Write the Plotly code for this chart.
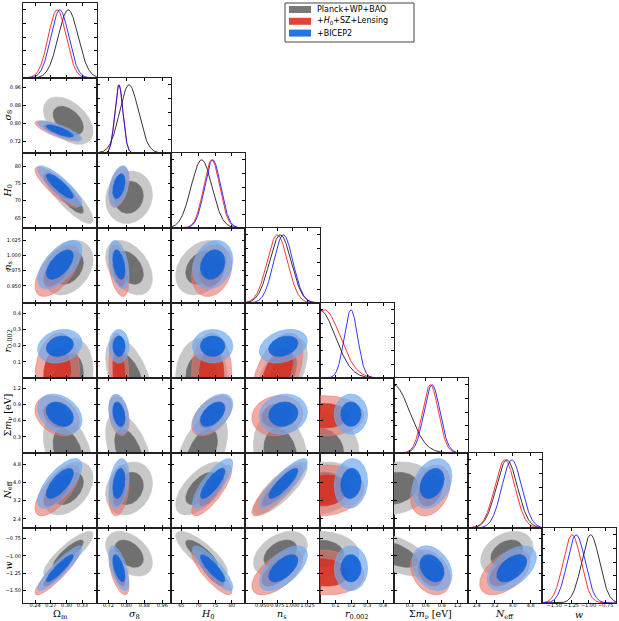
import numpy as np
import plotly.graph_objects as go

# ---------------- data ----------------
PARAM_LABELS = ["Ω<sub>m</sub>", "<i>σ</i><sub>8</sub>", "<i>H</i><sub>0</sub>", "<i>n</i><sub>s</sub>",
                "<i>r</i><sub>0.002</sub>", "Σ<i>m</i><sub>ν</sub> [eV]", "<i>N</i><sub>eff</sub>", "<i>w</i>"]
AXIS_RANGES = [[0.217, 0.358], [0.67, 1.0], [62.0, 84.0], [0.922, 1.045],
               [0.0, 0.465], [0.0, 1.39], [2.0, 5.3], [-1.68, -0.60]]
TICK_VALUES = [[0.24, 0.27, 0.30, 0.33], [0.72, 0.80, 0.88, 0.96], [65, 70, 75, 80],
               [0.950, 0.975, 1.000, 1.025], [0.1, 0.2, 0.3, 0.4], [0.3, 0.6, 0.9, 1.2],
               [2.4, 3.2, 4.0, 4.8], [-1.50, -1.25, -1.00, -0.75]]
TICK_TEXT = [["0.24", "0.27", "0.30", "0.33"], ["0.72", "0.80", "0.88", "0.96"], ["65", "70", "75", "80"],
             ["0.950", "0.975", "1.000", "1.025"], ["0.1", "0.2", "0.3", "0.4"], ["0.3", "0.6", "0.9", "1.2"],
             ["2.4", "3.2", "4.0", "4.8"], ["\u22121.50", "\u22121.25", "\u22121.00", "\u22120.75"]]

SERIES_NAMES = ["Planck+WP+BAO", "+<i>H</i><sub>0</sub>+SZ+Lensing", "+BICEP2"]

# means per parameter (Ωm, σ8, H0, ns, r, Σmν, Neff, w)
MEAN_PLANCK = [0.303, 0.812, 71.0, 0.980, 0.000, 0.00, 3.74, -0.97]
MEAN_H0SZ = [0.282, 0.767, 74.0, 0.975, 0.030, 0.69, 3.65, -1.24]
MEAN_BICEP = [0.287, 0.767, 74.3, 0.985, 0.197, 0.72, 3.96, -1.18]
# standard deviations
SD_PLANCK = [0.019, 0.042, 3.1, 0.018, 0.100, 0.30, 0.47, 0.13]
SD_H0SZ = [0.017, 0.018, 2.4, 0.017, 0.100, 0.15, 0.45, 0.13]
SD_BICEP = [0.017, 0.018, 2.4, 0.016, 0.042, 0.15, 0.44, 0.13]

# correlation for each pair (row parameter, column parameter)
PAIRS = [(1, 0), (2, 0), (2, 1), (3, 0), (3, 1), (3, 2), (4, 0), (4, 1), (4, 2), (4, 3),
         (5, 0), (5, 1), (5, 2), (5, 3), (5, 4), (6, 0), (6, 1), (6, 2), (6, 3), (6, 4), (6, 5),
         (7, 0), (7, 1), (7, 2), (7, 3), (7, 4), (7, 5), (7, 6)]
RHO_PLANCK = [-0.45, -0.85, 0.10, 0.30, -0.40, 0.30, 0.20, -0.50, 0.00, 0.60,
              -0.40, -0.50, 0.50, -0.20, 0.00, 0.40, 0.20, 0.60, 0.80, 0.20, 0.20,
              0.85, -0.40, -0.80, 0.40, 0.00, -0.60, 0.30]
RHO_H0SZ = [-0.80, -0.85, 0.40, 0.60, -0.40, 0.20, 0.10, -0.20, 0.00, 0.50,
            -0.30, -0.30, 0.50, 0.10, 0.00, 0.70, 0.30, 0.80, 0.85, 0.10, 0.30,
            0.90, -0.60, -0.85, 0.60, -0.10, -0.30, 0.50]
RHO_BICEP = [-0.80, -0.85, 0.40, 0.60, -0.40, 0.20, 0.20, 0.00, 0.00, 0.30,
             -0.30, -0.30, 0.50, 0.10, 0.00, 0.70, 0.30, 0.80, 0.85, 0.10, 0.30,
             0.90, -0.60, -0.85, 0.60, 0.00, -0.30, 0.50]

# ---------------- styles ----------------
MEANS = [MEAN_PLANCK, MEAN_H0SZ, MEAN_BICEP]
SDS = [SD_PLANCK, SD_H0SZ, SD_BICEP]
RHOS = [RHO_PLANCK, RHO_H0SZ, RHO_BICEP]
FILL_OUTER = ["rgb(200,200,200)", "rgba(233,113,105,0.6)", "rgba(110,170,240,0.7)"]
FILL_INNER = ["rgb(112,112,112)", "rgba(210,46,30,0.85)", "rgba(8,95,216,0.85)"]
EDGE_OUTER = ["rgb(200,200,200)", "rgb(232,128,118)", "rgb(120,172,236)"]
EDGE_INNER = ["rgb(112,112,112)", "rgb(205,55,40)", "rgb(25,100,215)"]
LINE_COLORS = ["#000000", "#ff0000", "#0000ff"]
LEGEND_COLORS = ["rgb(120,120,120)", "rgb(222,70,55)", "rgb(40,115,225)"]
LEVELS = [np.sqrt(6.18), np.sqrt(2.30)]  # 95% and 68% radii

N = len(PARAM_LABELS)
W, H = 619, 621
ML, MR, MT, MB = 23, 3, 3, 18
PW, PH = W - ML - MR, H - MT - MB
TICK_FONT = dict(family="DejaVu Sans", size=5, color="black")
TITLE_FONT = dict(family="DejaVu Serif", size=9.5, color="black")


def px_x(px):
    return (px - ML) / PW


def px_y(py):
    return (H - MB - py) / PH


fig = go.Figure()
theta = np.linspace(0, 2 * np.pi, 181)

panel = 0
for i in range(N):
    for j in range(i + 1):
        panel += 1
        sfx = "" if panel == 1 else str(panel)
        xa, ya = "x" + sfx, "y" + sfx
        xaxis = dict(domain=[j / N, (j + 1) / N], anchor=ya, range=AXIS_RANGES[j],
                     tickvals=TICK_VALUES[j], ticktext=TICK_TEXT[j], showticklabels=(i == N - 1),
                     ticklabelstandoff=-3, tickangle=0)
        if i == j:
            yaxis = dict(domain=[1 - (i + 1) / N, 1 - i / N], anchor=xa, range=[0, 1.1],
                         tickvals=[0.2, 0.4, 0.6, 0.8, 1.0], showticklabels=False)
        else:
            yaxis = dict(domain=[1 - (i + 1) / N, 1 - i / N], anchor=xa, range=AXIS_RANGES[i],
                         tickvals=TICK_VALUES[i], ticktext=TICK_TEXT[i], showticklabels=(j == 0),
                         tickangle=0)
        for ax in (xaxis, yaxis):
            ax.update(ticks="inside", ticklen=3, tickwidth=0.8, tickcolor="black",
                      showline=True, linecolor="#222222", linewidth=1, mirror="allticks",
                      showgrid=False, zeroline=False, tickfont=TICK_FONT, layer="above traces")
        fig.layout["xaxis" + sfx] = xaxis
        fig.layout["yaxis" + sfx] = yaxis

        if i == j:
            xs = np.linspace(AXIS_RANGES[j][0], AXIS_RANGES[j][1], 300)
            for s in range(3):
                m, sd = MEANS[s][j], SDS[s][j]
                ys = np.exp(-0.5 * ((xs - m) / sd) ** 2)
                fig.add_trace(go.Scatter(x=xs, y=ys, mode="lines", xaxis=xa, yaxis=ya,
                                         line=dict(color=LINE_COLORS[s], width=0.8),
                                         showlegend=False, hoverinfo="skip"))
        else:
            k_pair = PAIRS.index((i, j))
            for s in range(3):
                mx, my = MEANS[s][j], MEANS[s][i]
                sx, sy = SDS[s][j], SDS[s][i]
                rho = RHOS[s][k_pair]
                for lvl, k in enumerate(LEVELS):
                    ex = mx + k * sx * np.cos(theta)
                    ey = my + k * sy * (rho * np.cos(theta) + np.sqrt(1 - rho ** 2) * np.sin(theta))
                    fc = FILL_OUTER[s] if lvl == 0 else FILL_INNER[s]
                    lc = EDGE_OUTER[s] if lvl == 0 else EDGE_INNER[s]
                    fig.add_trace(go.Scatter(x=ex, y=ey, mode="lines", fill="toself", fillcolor=fc,
                                             line=dict(color=lc, width=0.6), xaxis=xa, yaxis=ya,
                                             showlegend=False, hoverinfo="skip"))

# axis titles
annotations = []
shapes = []
for j in range(N):
    annotations.append(dict(text=PARAM_LABELS[j], x=(j + 0.5) / N, y=px_y(614), xref="paper", yref="paper",
                            xanchor="center", yanchor="middle", showarrow=False, font=TITLE_FONT))
for i in range(1, N):
    annotations.append(dict(text=PARAM_LABELS[i], x=px_x(8), y=1 - (i + 0.5) / N, xref="paper", yref="paper",
                            xanchor="center", yanchor="middle", textangle=-90, showarrow=False,
                            font=TITLE_FONT))

# legend box (drawn by hand to match the compact reference legend)
shapes.append(dict(type="rect", xref="paper", yref="paper", x0=px_x(285), x1=px_x(414),
                   y0=px_y(42), y1=px_y(3), line=dict(color="#444444", width=1), fillcolor="white",
                   layer="above"))
for s in range(3):
    yc = 9.5 + 11.8 * s
    shapes.append(dict(type="rect", xref="paper", yref="paper", x0=px_x(289), x1=px_x(311),
                       y0=px_y(yc + 3.5), y1=px_y(yc - 3.5), line=dict(width=0),
                       fillcolor=LEGEND_COLORS[s], layer="above"))
    annotations.append(dict(text=SERIES_NAMES[s], x=px_x(315), y=px_y(yc), xref="paper", yref="paper",
                            xanchor="left", yanchor="middle", showarrow=False,
                            font=dict(family="DejaVu Sans", size=8, color="black")))

fig.update_layout(
    width=W, height=H,
    margin=dict(l=ML, r=MR, t=MT, b=MB),
    paper_bgcolor="white", plot_bgcolor="white",
    annotations=annotations, shapes=shapes,
    showlegend=False,
)

fig.write_html("out.html", config={"displayModeBar": False},
               post_script="document.body.style.margin='0px';document.body.style.overflow='hidden';")
